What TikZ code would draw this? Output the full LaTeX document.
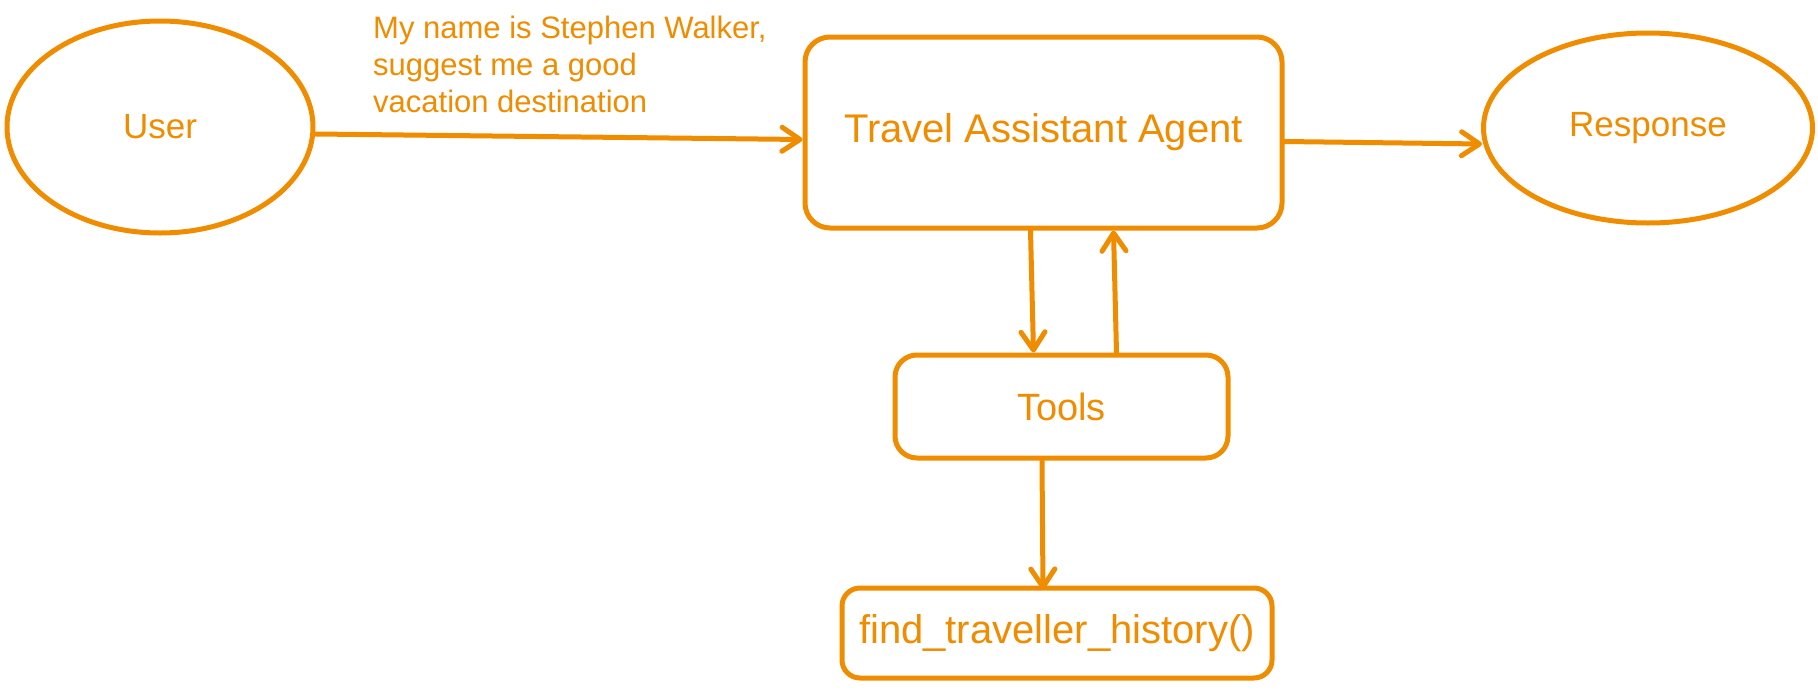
\documentclass[tikz,border=0pt]{standalone}
\usepackage{fontspec}
\setmainfont{Liberation Sans}
\usetikzlibrary{shapes.geometric,arrows.meta,calc}
\definecolor{exo}{HTML}{F08C00}
\tikzset{
  sk/.style={draw=exo, line width=5pt, text=exo, inner sep=0pt, line join=round},
  ovalnode/.style={sk, ellipse},
  boxnode/.style={sk, rectangle},
  arr/.style={draw=exo, line width=5pt, line cap=round,
    -{Straight Barb[length=18pt,width=24pt,round]}},
  lbl/.style={text=exo, inner sep=0pt, align=left}
}
\begin{document}
\begin{tikzpicture}[x=1pt,y=-1pt]
\useasboundingbox (0,0) rectangle (1818,691);
\fill[white] (0,0) rectangle (1818,691);

\node[ovalnode, minimum width=306pt, minimum height=212pt,
      font=\fontsize{35}{42}\selectfont] (user) at (160,127) {User};
\node[boxnode, rounded corners=25pt, minimum width=477pt, minimum height=191pt,
      font=\fontsize{40}{48}\selectfont] (agent) at (1043.5,132.5) {Travel Assistant Agent};
\node[ovalnode, minimum width=329pt, minimum height=190pt,
      font=\fontsize{35}{42}\selectfont] (resp) at (1648,128) {Response};
\node[boxnode, rounded corners=22pt, minimum width=333pt, minimum height=103pt,
      font=\fontsize{38}{46}\selectfont] (tools) at (1061.5,406.5) {Tools};
\node[boxnode, rounded corners=18pt, minimum width=430pt, minimum height=90pt,
      font=\fontsize{40}{48}\selectfont] (find) at (1057,633) {find\_traveller\_history()};

\node[lbl, anchor=north west, font=\fontsize{31}{37}\selectfont] (msg) at (373,16)
  {My name is Stephen Walker,\\suggest me a good\\vacation destination};

\draw[arr] ($(user.east)+(0,7)$) -- ($(agent.west)+(0,7)$);
\draw[arr] ($(agent.east)+(0,9)$) -- ($(resp.west)+(1,16)$);
\draw[arr] ($(agent.south)+(-13,0)$) -- ($(tools.north)+(-28,0)$);
\draw[arr] ($(tools.north)+(55,0)$) -- ($(agent.south)+(70,0)$);
\draw[arr] ($(tools.south)+(-19.5,0)$) -- ($(find.north)+(-14,4)$);
\end{tikzpicture}
\end{document}
